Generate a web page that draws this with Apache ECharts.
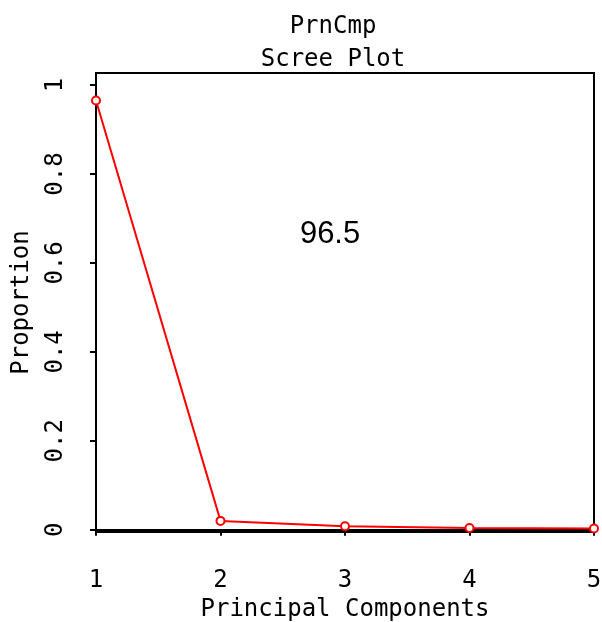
<!DOCTYPE html>
<html><head><meta charset="utf-8">
<script src="https://cdn.jsdelivr.net/npm/echarts@6/dist/echarts.min.js"></script>
<style>html,body{margin:0;padding:0;background:#fff}#c{width:602px;height:622px}</style>
</head><body><div id="c"></div>
<script>
const components = [1, 2, 3, 4, 5];
const proportion = [0.965, 0.020, 0.008, 0.004, 0.003];
const yTicks = [0, 0.2, 0.4, 0.6, 0.8, 1];
const xTicks = [1, 2, 3, 4, 5];
const annotationText = '96.5';
const annotationAt = [2.88, 0.665];
const titleLines = ['PrnCmp', 'Scree Plot'];

const mono = '"DejaVu Sans Mono", monospace';
const chart = echarts.init(document.getElementById('c'), null, {renderer: 'canvas'});
chart.setOption({
  animation: false,
  backgroundColor: '#fff',
  title: {
    text: titleLines.join('\n'),
    left: 328, top: 5, textAlign: 'center',
    textStyle: {fontFamily: mono, fontSize: 24, fontWeight: 'normal', color: '#000', lineHeight: 33}
  },
  grid: {left: 96, right: 8, top: 73, bottom: 90, show: true, borderColor: '#000', borderWidth: 2,
    backgroundColor: 'transparent', outerBoundsMode: 'none', containLabel: false},
  xAxis: {
    type: 'value', min: 1, max: 5, interval: 1,
    name: 'Principal Components', nameLocation: 'middle', nameGap: 63,
    nameTextStyle: {fontFamily: mono, fontSize: 24, color: '#000'},
    axisLine: {show: true, lineStyle: {color: '#000', width: 2}},
    axisTick: {show: true, inside: false, length: 6, lineStyle: {color: '#000', width: 2}, customValues: xTicks},
    axisLabel: {fontFamily: mono, fontSize: 24, color: '#000', margin: 37, customValues: xTicks, showMinLabel: true, showMaxLabel: true},
    splitLine: {show: false}
  },
  yAxis: {
    type: 'value', min: -0.005, max: 1.027,
    name: 'Proportion', nameLocation: 'middle', nameGap: 62, nameRotate: 90,
    nameTextStyle: {fontFamily: mono, fontSize: 24, color: '#000'},
    axisLine: {show: true, lineStyle: {color: '#000', width: 2}},
    axisTick: {show: true, length: 6, lineStyle: {color: '#000', width: 2}, customValues: yTicks},
    axisLabel: {fontFamily: mono, fontSize: 24, color: '#000', rotate: 90, margin: 28, customValues: yTicks,
      formatter: v => String(v)},
    splitLine: {show: false}
  },
  series: [{
    type: 'line',
    data: components.map((c, i) => [c, proportion[i]]),
    symbol: 'emptyCircle', symbolSize: 8,
    lineStyle: {color: '#ff0000', width: 2},
    itemStyle: {color: '#ff0000', borderColor: '#ff0000', borderWidth: 1.5},
    clip: false,
    markPoint: {
      symbol: 'circle', symbolSize: 0,
      label: {show: true, formatter: annotationText, fontFamily: '"Liberation Sans", Arial, sans-serif', fontSize: 31, color: '#000', position: 'inside'},
      data: [{coord: annotationAt}]
    }
  }]
});
</script></body></html>
